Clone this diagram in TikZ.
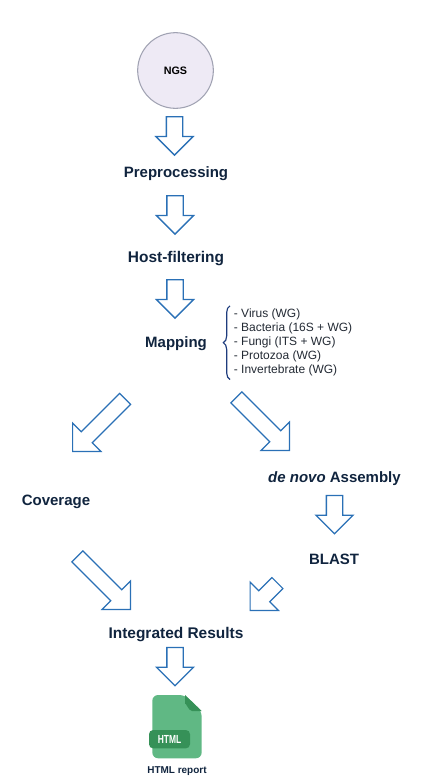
\documentclass[tikz,border=0pt]{standalone}
\usepackage{fontspec}
\setmainfont{Liberation Sans}
\usetikzlibrary{shapes.arrows,decorations.pathreplacing}
\definecolor{wfnavy}{RGB}{16,36,62}
\definecolor{wfblue}{RGB}{42,112,182}
\definecolor{wfbrace}{RGB}{30,60,125}
\definecolor{wflist}{RGB}{35,42,52}
\definecolor{wfcircle}{RGB}{238,234,245}
\definecolor{wfring}{RGB}{160,162,178}
\definecolor{wfdoc}{RGB}{96,184,132}
\definecolor{wfdocdark}{RGB}{54,145,88}
\tikzset{
  wfStep/.style={text=wfnavy, font=\fontsize{12.8pt}{15pt}\bfseries, inner sep=0pt, anchor=base},
  wfWide/.style={wfStep, font=\fontsize{13.2pt}{15pt}\bfseries},
  wfCircle/.style={circle, draw=wfring, line width=0.9pt, fill=wfcircle,
                   minimum size=2.27cm, inner sep=0pt,
                   font=\fontsize{9.2pt}{11pt}\bfseries},
  wfArrow/.style={single arrow, draw=wfblue, line width=1.1pt, fill=white, anchor=tip,
                  inner xsep=0pt, inner ysep=0.225cm, single arrow head indent=0pt,
                  single arrow head extend=0.315cm, minimum height=1.15cm},
  wfDiag/.style={wfArrow, inner ysep=0.215cm, single arrow head extend=0.37cm,
                 line width=1pt, minimum height=#1},
  wfList/.style={align=left, text=wflist, font=\fontsize{10.24pt}{11.95pt}\selectfont,
                 inner xsep=0.11cm, inner ysep=0.09cm, anchor=west},
  wfBrace/.style={draw=wfbrace, line width=1pt, decorate,
                  decoration={brace, amplitude=0.2cm}}
}
\begin{document}
\begin{tikzpicture}[x=0.03cm,y=-0.03cm]
  \useasboundingbox (0,0) rectangle (435,778);

  \node[wfCircle] (ngs) at (175.5,70.5) {NGS};
  \node[wfStep] (prep) at (176,177) {Preprocessing};
  \node[wfWide] (host) at (176,262) {Host-filtering};
  \node[wfStep] (mapping) at (176,347) {Mapping};
  \node[wfStep] (denovo) at (334.5,482) {\textit{de novo} Assembly};
  \node[wfStep] (coverage) at (56,505) {Coverage};
  \node[wfStep] (blast) at (334,564) {BLAST};
  \node[wfWide] (results) at (176,638) {Integrated Results};

  \node[wfList] (targets) at (230,342.7)
        {- Virus (WG)\\- Bacteria (16S + WG)\\- Fungi (ITS + WG)\\- Protozoa (WG)\\- Invertebrate (WG)};
  \draw[wfBrace] (targets.south west) -- (targets.north west);

  % block arrows
  \node[wfArrow, rotate=-90] (arrowA) at (174.5,156) {};
  \node[wfArrow, rotate=-90] (arrowB) at (175,235) {};
  \node[wfArrow, rotate=-90] (arrowC) at (175,319) {};
  \node[wfArrow, rotate=-90] (arrowD) at (334.5,534.7) {};
  \node[wfArrow, rotate=-90] (arrowE) at (175,686.7) {};
  \node[wfDiag=2.23cm, rotate=-135] (arrowF) at (72,452) {};
  \node[wfDiag=2.25cm, rotate=-45] (arrowG) at (290,451) {};
  \node[wfDiag=2.25cm, rotate=-45] (arrowH) at (131,610) {};
  \node[wfDiag=1.16cm, rotate=-135] (arrowI) at (249.5,611) {};

  % html file icon
  \fill[wfdoc, rounded corners=5pt] (152.3,695) -- (185,695) -- (201.7,711) -- (201.7,758.3) -- (152.3,758.3) -- cycle;
  \fill[wfdocdark] (185,695) -- (201.7,711) -- (192,711) to[out=180,in=90] (185,704) -- cycle;
  \node[fill=wfdocdark, rounded corners=3.5pt, minimum width=1.23cm, minimum height=0.55cm, inner sep=0pt] (badge) at (169.5,739.2) {};
  \node[text=white, font=\fontsize{10pt}{11pt}\bfseries, inner sep=0pt, xscale=0.72] (badgetext) at (badge.center) {HTML};
  \node[text=wfnavy, font=\fontsize{8.5pt}{10pt}\bfseries, inner sep=0pt] (report) at (177,771) {HTML report};
\end{tikzpicture}
\end{document}
